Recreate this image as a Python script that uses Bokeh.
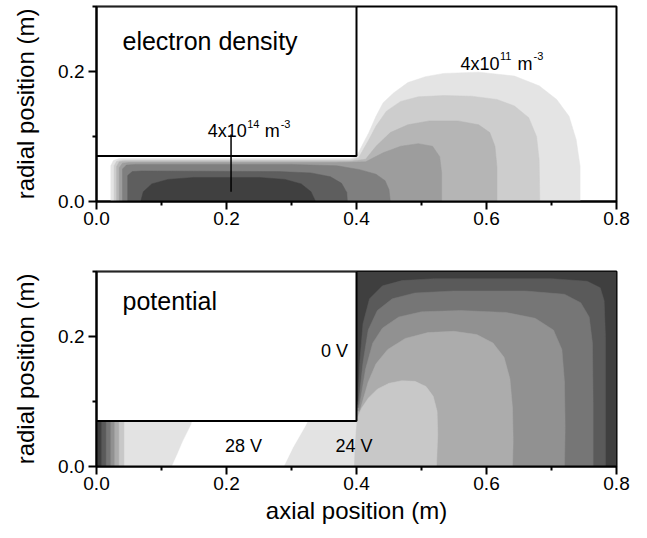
from bokeh.plotting import figure
from bokeh.models import Range1d, FixedTicker, Label, ColumnDataSource, PrintfTickFormatter
from bokeh.layouts import column
from bokeh.embed import file_html
from bokeh.resources import INLINE

# ---------------- data ----------------
x_range = [0.0, 0.8]
y_range = [0.0, 0.3]
x_major = [0.0, 0.2, 0.4, 0.6, 0.8]
x_minor = [0.1, 0.3, 0.5, 0.7]
y_major = [0.0, 0.2]
y_minor = [0.1, 0.3]

# inset boxes (electrode) : x0, x1 and y0, y1
box_x = [0.0, 0.4]
box_y = [0.07, 0.3]

# electron density contours, outermost (lowest) to innermost (highest)
d1_x = [0.022, 0.022, 0.026, 0.035, 0.390, 0.400, 0.408, 0.419, 0.430, 0.441, 0.457, 0.479, 0.506, 0.534, 0.588, 0.643, 0.681, 0.708, 0.727, 0.738, 0.744, 0.744]
d1_y = [0.000, 0.055, 0.063, 0.066, 0.066, 0.069, 0.085, 0.106, 0.131, 0.152, 0.167, 0.183, 0.192, 0.197, 0.199, 0.193, 0.178, 0.157, 0.131, 0.095, 0.054, 0.000]
d2_x = [0.027, 0.027, 0.031, 0.040, 0.390, 0.403, 0.419, 0.430, 0.446, 0.468, 0.495, 0.534, 0.577, 0.616, 0.643, 0.665, 0.677, 0.681, 0.682]
d2_y = [0.000, 0.055, 0.062, 0.064, 0.064, 0.067, 0.095, 0.116, 0.139, 0.154, 0.161, 0.163, 0.162, 0.157, 0.147, 0.129, 0.100, 0.064, 0.000]
d3_x = [0.031, 0.031, 0.035, 0.045, 0.390, 0.414, 0.430, 0.452, 0.479, 0.512, 0.556, 0.588, 0.605, 0.613, 0.616, 0.616]
d3_y = [0.000, 0.054, 0.061, 0.062, 0.062, 0.065, 0.085, 0.106, 0.118, 0.124, 0.124, 0.118, 0.106, 0.085, 0.054, 0.000]
d4_x = [0.035, 0.035, 0.040, 0.050, 0.370, 0.414, 0.441, 0.468, 0.495, 0.517, 0.528, 0.531, 0.531]
d4_y = [0.000, 0.052, 0.059, 0.060, 0.060, 0.061, 0.075, 0.085, 0.089, 0.085, 0.069, 0.044, 0.000]
d5_x = [0.040, 0.040, 0.046, 0.060, 0.300, 0.370, 0.405, 0.430, 0.444, 0.450, 0.452]
d5_y = [0.000, 0.050, 0.056, 0.057, 0.057, 0.055, 0.049, 0.042, 0.032, 0.018, 0.000]
d6_x = [0.048, 0.048, 0.055, 0.070, 0.280, 0.330, 0.360, 0.377, 0.385, 0.386]
d6_y = [0.000, 0.040, 0.046, 0.047, 0.046, 0.044, 0.038, 0.028, 0.014, 0.000]
d7_x = [0.068, 0.072, 0.085, 0.110, 0.150, 0.250, 0.290, 0.315, 0.330, 0.337]
d7_y = [0.000, 0.015, 0.027, 0.034, 0.037, 0.037, 0.034, 0.027, 0.015, 0.000]

# potential contours, from the 0 V background inward to the 28 V plateau
p6_x = [0.008, 0.008, 0.402, 0.405, 0.410, 0.420, 0.440, 0.470, 0.520, 0.700, 0.755, 0.775, 0.781, 0.783, 0.783]
p6_y = [0.000, 0.100, 0.100, 0.160, 0.220, 0.258, 0.278, 0.286, 0.289, 0.289, 0.285, 0.275, 0.255, 0.200, 0.000]
p5_x = [0.015, 0.015, 0.403, 0.410, 0.418, 0.432, 0.455, 0.490, 0.550, 0.660, 0.720, 0.745, 0.758, 0.763, 0.764, 0.764]
p5_y = [0.000, 0.095, 0.095, 0.160, 0.210, 0.240, 0.258, 0.267, 0.270, 0.270, 0.265, 0.252, 0.230, 0.190, 0.100, 0.000]
p4_x = [0.022, 0.022, 0.404, 0.414, 0.425, 0.440, 0.465, 0.500, 0.560, 0.630, 0.675, 0.703, 0.716, 0.720, 0.721, 0.720]
p4_y = [0.000, 0.090, 0.090, 0.150, 0.190, 0.213, 0.230, 0.238, 0.240, 0.237, 0.228, 0.210, 0.180, 0.130, 0.060, 0.000]
p3_x = [0.028, 0.028, 0.405, 0.418, 0.430, 0.448, 0.475, 0.510, 0.550, 0.585, 0.610, 0.627, 0.636, 0.640, 0.641, 0.640]
p3_y = [0.000, 0.085, 0.085, 0.130, 0.158, 0.180, 0.197, 0.206, 0.208, 0.203, 0.190, 0.168, 0.135, 0.090, 0.040, 0.000]
p2_x = [0.035, 0.035, 0.400, 0.408, 0.418, 0.432, 0.450, 0.470, 0.490, 0.507, 0.518, 0.524, 0.525, 0.523]
p2_y = [0.000, 0.072, 0.072, 0.090, 0.105, 0.119, 0.128, 0.132, 0.131, 0.123, 0.108, 0.085, 0.050, 0.000]
p1_x = [0.043, 0.043, 0.400, 0.400, 0.397, 0.396]
p1_y = [0.000, 0.080, 0.080, 0.070, 0.030, 0.000]
p0_x = [0.116, 0.125, 0.133, 0.146, 0.150, 0.330, 0.321, 0.302, 0.288]
p0_y = [0.000, 0.020, 0.039, 0.065, 0.080, 0.080, 0.062, 0.029, 0.000]

# annotation pointer (data units)
dens_pointer_x = [0.207, 0.207]
dens_pointer_y = [0.103, 0.015]

# ---------------- styles ----------------
FONT = "Liberation Sans"
dens_colors = ["#e4e4e4", "#cdcdcd", "#b5b5b5", "#9d9d9d", "#7f7f7f", "#5e5e5e", "#404040"]
pot_bg = "#3f3f3f"
pot_colors = ["#5a5a5a", "#767676", "#919191", "#acacac", "#c8c8c8", "#e3e3e3", "#ffffff"]


def make_fig(height, top, bottom, xlabel):
    p = figure(width=637, height=height, output_backend="svg", toolbar_location=None,
               x_range=Range1d(*x_range), y_range=Range1d(*y_range),
               min_border_left=96, min_border_right=21,
               min_border_top=top, min_border_bottom=bottom)
    p.grid.visible = False
    p.background_fill_color = "white"
    p.border_fill_color = "white"
    p.outline_line_color = "black"
    p.outline_line_width = 2
    p.xaxis.ticker = FixedTicker(ticks=x_major, minor_ticks=x_minor)
    p.yaxis.ticker = FixedTicker(ticks=y_major, minor_ticks=y_minor)
    p.xaxis.formatter = PrintfTickFormatter(format="%.1f")
    p.yaxis.formatter = PrintfTickFormatter(format="%.1f")
    for ax in (p.xaxis[0], p.yaxis[0]):
        ax.axis_line_width = 2
        ax.major_tick_line_width = 2
        ax.minor_tick_line_width = 2
        ax.major_tick_out = 8
        ax.major_tick_in = 0
        ax.minor_tick_out = 4
        ax.minor_tick_in = 0
        ax.major_label_text_font = FONT
        ax.major_label_text_font_size = "19px"
        ax.major_label_text_color = "black"
        ax.axis_label_text_font = FONT
        ax.axis_label_text_font_size = "24px"
        ax.axis_label_text_font_style = "normal"
        ax.axis_label_text_color = "black"
    p.xaxis.major_label_standoff = 2
    p.yaxis.major_label_standoff = 4
    p.yaxis.axis_label = "radial position (m)"
    p.yaxis.axis_label_standoff = 16
    if xlabel:
        p.xaxis.axis_label = xlabel
        p.xaxis.axis_label_standoff = 4
    return p


def add_label(p, x, y, text, size, x_offset=0, y_offset=0, align="left", baseline="alphabetic"):
    p.add_layout(Label(x=x, y=y, text=text, x_offset=x_offset, y_offset=y_offset,
                       text_font=FONT, text_font_size=size, text_color="black",
                       text_align=align, text_baseline=baseline))


def add_density_label(p, x, y, exp):
    add_label(p, x, y, "4x10", "18px")
    add_label(p, x, y, exp, "11px", x_offset=39.5, y_offset=7.5)
    add_label(p, x, y, "m", "18px", x_offset=57)
    add_label(p, x, y, "-3", "11px", x_offset=73, y_offset=7.5)


# ---------------- top: electron density ----------------
p1 = make_fig(260, 6, 59, None)
dens_src = ColumnDataSource(dict(
    xs=[d1_x, d2_x, d3_x, d4_x, d5_x, d6_x, d7_x],
    ys=[d1_y, d2_y, d3_y, d4_y, d5_y, d6_y, d7_y],
    color=dens_colors))
p1.patches("xs", "ys", source=dens_src, fill_color="color", line_color="color", line_width=0.5)
p1.quad(left=box_x[0], right=box_x[1], bottom=box_y[0], top=box_y[1],
        fill_color="white", line_color="black", line_width=2)
p1.line(dens_pointer_x, dens_pointer_y, line_color="black", line_width=1.5)
add_label(p1, 0.04, 0.247, "electron density", "25px", baseline="middle")
add_density_label(p1, 0.171, 0.108, "14")
add_density_label(p1, 0.560, 0.212, "11")

# ---------------- bottom: potential ----------------
p2 = make_fig(268, 11, 62, "axial position (m)")
p2.quad(left=x_range[0], right=x_range[1], bottom=y_range[0], top=y_range[1],
        fill_color=pot_bg, line_color=None)
pot_src = ColumnDataSource(dict(
    xs=[p6_x, p5_x, p4_x, p3_x, p2_x, p1_x, p0_x],
    ys=[p6_y, p5_y, p4_y, p3_y, p2_y, p1_y, p0_y],
    color=pot_colors))
p2.patches("xs", "ys", source=pot_src, fill_color="color", line_color="color", line_width=0.5)
p2.quad(left=box_x[0], right=box_x[1], bottom=box_y[0], top=box_y[1],
        fill_color="white", line_color="black", line_width=2)
add_label(p2, 0.04, 0.254, "potential", "25px", baseline="middle")
add_label(p2, 0.387, 0.178, "0 V", "18px", align="right", baseline="middle")
add_label(p2, 0.226, 0.032, "28 V", "18px", align="center", baseline="middle")
add_label(p2, 0.396, 0.032, "24 V", "18px", align="center", baseline="middle")

layout = column(p1, p2, spacing=0)
open("out.html", "w").write(file_html(layout, INLINE))
